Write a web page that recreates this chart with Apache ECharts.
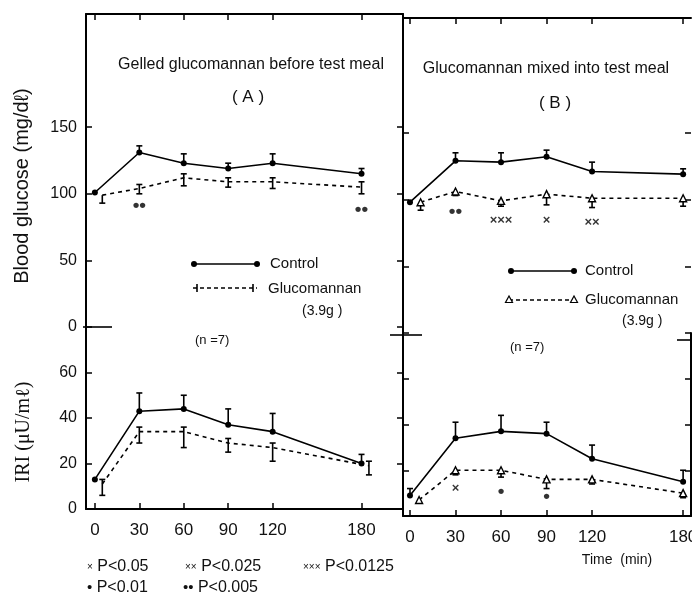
<!DOCTYPE html>
<html>
<head>
<meta charset="utf-8">
<script src="https://cdn.jsdelivr.net/npm/echarts@6.0.0/dist/echarts.min.js"></script>
<style>
  html, body { margin: 0; padding: 0; background: #fff; }
  #chart { width: 692px; height: 599px; }
</style>
</head>
<body>
<div id="chart"></div>
<script>
// tick values
const timeTicks = [0, 30, 60, 90, 120, 180];
const glucoseTicks = [0, 50, 100, 150];
const iriTicks = [0, 20, 40, 60];

// sampling times (min)
const ctrlTime = [0, 30, 60, 90, 120, 180];

// (A) gelled glucomannan before test meal
const aGluCtrl = [101, 131, 123, 119, 123, 115];
const aGluCtrlErr = [0, 5, 7, 4, 7, 4];
const aGluGmTime = [5, 30, 60, 90, 120, 180];
const aGluGm = [99, 104, 112, 109, 109, 105];
const aGluGmErrUp = [0, 3, 3, 3, 3, 4];
const aGluGmErrDown = [6, 4, 6, 4, 5, 5];

const aIriCtrl = [13, 43, 44, 37, 34, 20];
const aIriCtrlErr = [0, 8, 6, 7, 8, 4];
const aIriGmTime = [5, 30, 60, 90, 120, 185];
const aIriGm = [11, 34, 34, 29, 27, 19];
const aIriGmErrUp = [2, 2, 2, 2, 2, 2];
const aIriGmErrDown = [5, 5, 7, 4, 6, 4];

// (B) glucomannan mixed into test meal
const bGluCtrl = [98, 129, 128, 132, 121, 119];
const bGluCtrlErr = [0, 6, 7, 5, 7, 4];
const bGluGmTime = [7, 30, 60, 90, 120, 180];
const bGluGm = [98, 106, 99, 104, 101, 101];
const bGluGmErrDown = [6, 3, 4, 8, 7, 6];

const bIriCtrl = [9, 34, 37, 36, 25, 15];
const bIriCtrlErr = [3, 7, 7, 5, 6, 5];
const bIriGmTime = [6, 30, 60, 90, 120, 180];
const bIriGm = [7, 20, 20, 16, 16, 10];
const bIriGmErrDown = [0, 2, 3, 4, 2, 2];

// significance marks (time, height on axis, mark)
const aGluSigTime = [30, 180];
const aGluSigY = [91, 88];
const aGluSigText = ['••', '••'];
const bGluSigTime = [30, 60, 90, 120];
const bGluSigY = [91, 84, 84, 83];
const bGluSigText = ['••', '×××', '×', '××'];
const bIriSigTime = [30, 60, 90];
const bIriSigY = [12, 10.5, 8.3];
const bIriSigText = ['×', '•', '•'];

const numFont = '"Liberation Sans", Arial, sans-serif';
const txtFont = '"Liberation Sans", Arial, sans-serif';
const ink = '#111';

const chart = echarts.init(document.getElementById('chart'));

const zip = (xs, ys) => xs.map((x, i) => [x, ys[i]]);
const errData = (xs, ys, up, down) => xs.map((x, i) => [x, ys[i], up ? up[i] : 0, down ? down[i] : 0]);
const sigData = (xs, ys, t) => xs.map((x, i) => [x, ys[i], t[i]]);

function errorBar(params, api) {
  const x = api.value(0), y = api.value(1), up = api.value(2), down = api.value(3);
  if (!up && !down) return null;
  const top = api.coord([x, y + up]);
  const bot = api.coord([x, y - down]);
  const st = { stroke: '#000', lineWidth: 1.6 };
  const kids = [{ type: 'line', shape: { x1: top[0], y1: top[1], x2: bot[0], y2: bot[1] }, style: st }];
  if (up) kids.push({ type: 'line', shape: { x1: top[0] - 3, y1: top[1], x2: top[0] + 3, y2: top[1] }, style: st });
  if (down) kids.push({ type: 'line', shape: { x1: bot[0] - 3, y1: bot[1], x2: bot[0] + 3, y2: bot[1] }, style: st });
  return { type: 'group', children: kids };
}

function lineOf(show) {
  return { show: show !== false, onZero: false, lineStyle: { color: '#000', width: 2 } };
}

function xAx(grid, min, max, pos, labels) {
  return {
    type: 'value', gridIndex: grid, min: min, max: max, position: pos,
    splitLine: { show: false },
    axisLine: lineOf(true),
    axisTick: { show: true, inside: true, length: 6, customValues: timeTicks, lineStyle: { color: '#000', width: 1.5 } },
    axisLabel: { show: labels, customValues: timeTicks, margin: 13, fontFamily: numFont, fontSize: 17, color: ink }
  };
}

function yAx(grid, max, ticks, pos, labels, line) {
  return {
    type: 'value', gridIndex: grid, min: 0, max: max, position: pos,
    splitLine: { show: false },
    axisLine: lineOf(line),
    axisTick: { show: true, inside: true, length: 6, customValues: ticks, lineStyle: { color: '#000', width: 1.5 } },
    axisLabel: { show: labels, customValues: ticks, margin: 9, fontFamily: numFont, fontSize: 16, color: ink }
  };
}

function panelSeries(xi, yi, ctrl, ctrlErr, gmTime, gm, gmUp, gmDown, gmSymbol, sig) {
  const s = [
    {
      type: 'line', xAxisIndex: xi, yAxisIndex: yi, data: zip(ctrlTime, ctrl),
      symbol: 'circle', symbolSize: 6, itemStyle: { color: '#000' },
      lineStyle: { color: '#000', width: 1.6 }, z: 3
    },
    {
      type: 'custom', xAxisIndex: xi, yAxisIndex: yi, renderItem: errorBar,
      data: errData(ctrlTime, ctrl, ctrlErr, null), encode: { x: 0, y: 1 }, z: 3
    },
    {
      type: 'line', xAxisIndex: xi, yAxisIndex: yi, data: zip(gmTime, gm),
      symbol: gmSymbol, symbolSize: 7, itemStyle: { color: '#fff', borderColor: '#000', borderWidth: 1.4 },
      lineStyle: { color: '#000', width: 1.6, type: [4, 4] }, z: 2
    },
    {
      type: 'custom', xAxisIndex: xi, yAxisIndex: yi, renderItem: errorBar,
      data: errData(gmTime, gm, gmUp, gmDown), encode: { x: 0, y: 1 }, z: 2
    }
  ];
  if (sig) {
    s.push({
      type: 'scatter', xAxisIndex: xi, yAxisIndex: yi, data: sig, symbolSize: 0,
      label: {
        show: true, position: 'inside',
        formatter: p => (p.data[2].indexOf('•') >= 0 ? '{d|' : '{x|') + p.data[2] + '}',
        rich: {
          d: { fontSize: 19, fontWeight: 'bold', color: '#000', fontFamily: txtFont },
          x: { fontSize: 13, fontWeight: 'bold', color: '#000', fontFamily: txtFont }
        }
      }
    });
  }
  return s;
}

const series = [].concat(
  panelSeries(0, 0, aGluCtrl, aGluCtrlErr, aGluGmTime, aGluGm, aGluGmErrUp, aGluGmErrDown, 'none',
    sigData(aGluSigTime, aGluSigY, aGluSigText)),
  panelSeries(1, 2, aIriCtrl, aIriCtrlErr, aIriGmTime, aIriGm, aIriGmErrUp, aIriGmErrDown, 'none', null),
  panelSeries(2, 4, bGluCtrl, bGluCtrlErr, bGluGmTime, bGluGm, null, bGluGmErrDown, 'triangle',
    sigData(bGluSigTime, bGluSigY, bGluSigText)),
  panelSeries(3, 6, bIriCtrl, bIriCtrlErr, bIriGmTime, bIriGm, null, bIriGmErrDown, 'triangle',
    sigData(bIriSigTime, bIriSigY, bIriSigText))
);

function txt(x, y, text, size, opts) {
  return Object.assign({
    type: 'text', x: x, y: y,
    style: Object.assign({
      text: text, fontSize: size, fontFamily: txtFont, fill: ink,
      align: 'left', verticalAlign: 'middle'
    }, (opts && opts.style) || {})
  }, opts && opts.el || {});
}
function seg(x1, y1, x2, y2, dash) {
  return {
    type: 'line', shape: { x1: x1, y1: y1, x2: x2, y2: y2 },
    style: { stroke: '#000', lineWidth: dash ? 1.5 : 1.6, lineDash: dash || null }
  };
}
function dot(x, y) {
  return { type: 'circle', shape: { cx: x, cy: y, r: 3 }, style: { fill: '#000' } };
}
function tri(x, y) {
  return { type: 'polygon', shape: { points: [[x, y - 4], [x - 3.5, y + 2.5], [x + 3.5, y + 2.5]] },
    style: { fill: '#fff', stroke: '#000', lineWidth: 1.2 } };
}
function note(x, y, mark, markSize, rest) {
  return {
    type: 'text', x: x, y: y,
    style: { text: '{s|' + mark + '} ' + rest, rich: { s: { fontSize: markSize } },
      fontSize: 16, fontFamily: txtFont, fill: ink, verticalAlign: 'middle' }
  };
}

const graphics = [
  // titles
  txt(251, 65, 'Gelled glucomannan before test meal', 16, { style: { align: 'center' } }),
  txt(248, 97, '( A )', 17, { style: { align: 'center' } }),
  txt(546, 69, 'Glucomannan mixed into test meal', 16, { style: { align: 'center' } }),
  txt(555, 103, '( B )', 17, { style: { align: 'center' } }),
  // axis names
  txt(22, 186, 'Blood glucose (mg/dℓ)', 20, { style: { align: 'center' }, el: { rotation: Math.PI / 2 } }),
  txt(24, 432, 'IRI (μU/mℓ)', 20, { style: { align: 'center', fontFamily: '"Liberation Serif", serif' }, el: { rotation: Math.PI / 2 } }),
  txt(617, 560, 'Time  (min)', 14, { style: { align: 'center' } }),
  // legend A
  seg(194, 264, 257, 264), dot(194, 264), dot(257, 264),
  txt(270, 264, 'Control', 15),
  seg(193, 288, 257, 288, [4, 3]), seg(197, 284, 197, 292), seg(253, 284, 253, 292),
  txt(268, 289, 'Glucomannan', 15),
  txt(302, 311, '(3.9g )', 14),
  txt(195, 340, '(n =7)', 13),
  // legend B
  seg(511, 271, 574, 271), dot(511, 271), dot(574, 271),
  txt(585, 271, 'Control', 15),
  seg(509, 300, 574, 300, [4, 3]), tri(509, 300), tri(574, 300),
  txt(585, 300, 'Glucomannan', 15),
  txt(622, 321, '(3.9g )', 14),
  txt(510, 347, '(n =7)', 13),
  // axis break marks
  seg(83, 327, 112, 327), seg(390, 335, 422, 335), seg(677, 340, 692, 340),
  // footnotes
  note(87, 567, '×', 10, 'P<0.05'),
  note(185, 567, '××', 10, 'P<0.025'),
  note(303, 567, '×××', 10, 'P<0.0125'),
  note(87, 588, '•', 15, 'P<0.01'),
  note(183, 588, '••', 15, 'P<0.005')
];

const gridBase = { outerBoundsMode: 'none', containLabel: false };

const option = {
  backgroundColor: '#fff',
  animation: false,
  grid: [
    Object.assign({ left: 86, top: 14, width: 317, height: 313 }, gridBase),
    Object.assign({ left: 86, top: 327, width: 317, height: 182 }, gridBase),
    Object.assign({ left: 403, top: 18, width: 288, height: 315 }, gridBase),
    Object.assign({ left: 403, top: 333, width: 288, height: 183 }, gridBase)
  ],
  xAxis: [
    xAx(0, -6, 208, 'top', false),
    xAx(1, -6, 208, 'bottom', true),
    xAx(2, -4.6, 185.2, 'top', false),
    xAx(3, -4.6, 185.2, 'bottom', true)
  ],
  yAxis: [
    yAx(0, 235, glucoseTicks, 'left', true),
    yAx(0, 235, glucoseTicks, 'right', false),
    yAx(1, 80, iriTicks, 'left', true),
    yAx(1, 80, iriTicks, 'right', false),
    yAx(2, 236, glucoseTicks, 'left', false),
    yAx(2, 236, glucoseTicks, 'right', false, false),
    yAx(3, 80, iriTicks, 'left', false),
    yAx(3, 80, iriTicks, 'right', false)
  ],
  series: series,
  graphic: graphics
};

chart.setOption(option);
</script>
</body>
</html>
